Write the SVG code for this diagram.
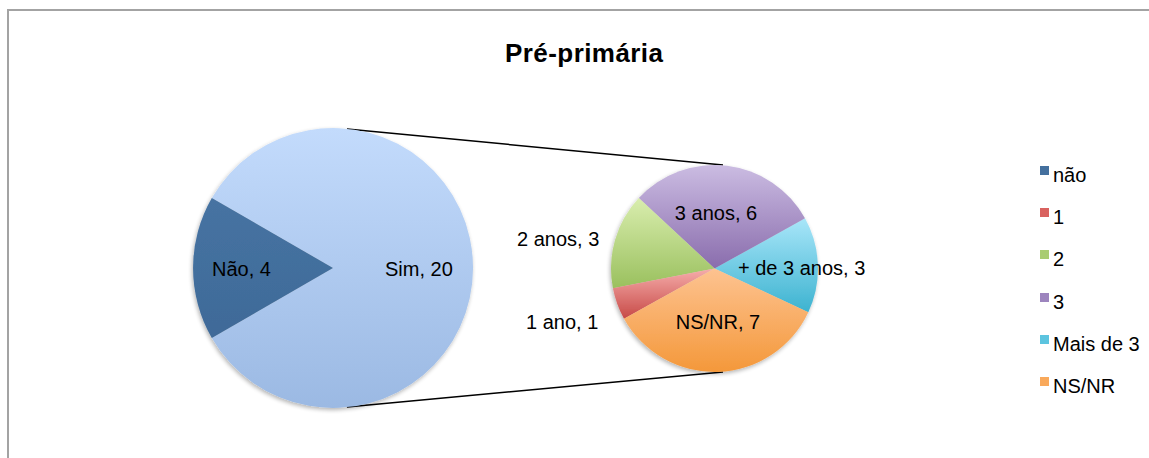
<svg xmlns="http://www.w3.org/2000/svg" width="1149" height="458" viewBox="0 0 1149 458">
<style>
text{font-family:"Liberation Sans",Arial,sans-serif;fill:#000}
.lbl{font-size:20px}
.leg{font-size:20px}
.title{font-size:26px;font-weight:bold}
.conn{stroke:#000;stroke-width:1.5;fill:none}
</style>
<defs>
<linearGradient id="gBig" gradientUnits="userSpaceOnUse" x1="0" y1="128" x2="0" y2="408"><stop offset="0" stop-color="#c3dbfc"/><stop offset="1" stop-color="#9bb9e3"/></linearGradient>
<linearGradient id="gDark" gradientUnits="userSpaceOnUse" x1="0" y1="198" x2="0" y2="338"><stop offset="0" stop-color="#4673a2"/><stop offset="1" stop-color="#3f6a98"/></linearGradient>
<linearGradient id="gPur" gradientUnits="userSpaceOnUse" x1="0" y1="165" x2="0" y2="268"><stop offset="0" stop-color="#cbbce2"/><stop offset="1" stop-color="#8a6dad"/></linearGradient>
<linearGradient id="gCy" gradientUnits="userSpaceOnUse" x1="0" y1="218" x2="0" y2="312"><stop offset="0" stop-color="#a9e6f9"/><stop offset="1" stop-color="#3db3d0"/></linearGradient>
<linearGradient id="gGr" gradientUnits="userSpaceOnUse" x1="0" y1="198" x2="0" y2="288"><stop offset="0" stop-color="#d9edae"/><stop offset="1" stop-color="#9ac05e"/></linearGradient>
<linearGradient id="gRd" gradientUnits="userSpaceOnUse" x1="0" y1="270" x2="0" y2="318"><stop offset="0" stop-color="#f4aaa8"/><stop offset="1" stop-color="#c84b48"/></linearGradient>
<linearGradient id="gOr" gradientUnits="userSpaceOnUse" x1="0" y1="268" x2="0" y2="372"><stop offset="0" stop-color="#fdc391"/><stop offset="1" stop-color="#f4983a"/></linearGradient>
<filter id="sh" x="-10%" y="-10%" width="120%" height="120%"><feGaussianBlur in="SourceAlpha" stdDeviation="2"/><feOffset dx="-1" dy="2"/><feComponentTransfer><feFuncA type="linear" slope="0.3"/></feComponentTransfer><feMerge><feMergeNode/><feMergeNode in="SourceGraphic"/></feMerge></filter>
</defs>
<rect width="1149" height="458" fill="#fff"/>
<path d="M8,458 V10 H1149" fill="none" stroke="#a3a3a3" stroke-width="2"/>
<text class="title" x="505" y="62" textLength="158" lengthAdjust="spacing">Pré-primária</text>
<g id="connectors">
<line class="conn" x1="347" y1="129" x2="723" y2="165"/>
<line class="conn" x1="347" y1="407" x2="723" y2="372"/>
</g>
<g id="pie-main" filter="url(#sh)">
<path d="M333,268 L211.8,338 A140,140 0 1 0 211.8,198 Z" fill="url(#gBig)"/>
<path d="M333,268 L211.8,198 A140,140 0 0 0 211.8,338 Z" fill="url(#gDark)"/>
</g>
<g id="pie-sub" filter="url(#sh)">
<path d="M714.5,268.5 L808.3,312.2 A103.5,103.5 0 0 0 805,218.3 Z" fill="url(#gCy)"/>
<path d="M714.5,268.5 L805,218.3 A103.5,103.5 0 0 0 638.8,197.9 Z" fill="url(#gPur)"/>
<path d="M714.5,268.5 L638.8,197.9 A103.5,103.5 0 0 0 612.9,288.2 Z" fill="url(#gGr)"/>
<path d="M714.5,268.5 L612.9,288.2 A103.5,103.5 0 0 0 624,318.7 Z" fill="url(#gRd)"/>
<path d="M714.5,268.5 L624,318.7 A103.5,103.5 0 0 0 808.3,312.2 Z" fill="url(#gOr)"/>
</g>
<g id="labels">
<text class="lbl" x="212" y="276">Não, 4</text>
<text class="lbl" x="385" y="276">Sim, 20</text>
<text class="lbl" x="517" y="246">2 anos, 3</text>
<text class="lbl" x="716" y="220" text-anchor="middle">3 anos, 6</text>
<text class="lbl" x="738" y="275">+ de 3 anos, 3</text>
<text class="lbl" x="526" y="329">1 ano, 1</text>
<text class="lbl" x="718" y="329" text-anchor="middle">NS/NR, 7</text>
</g>
<g id="legend">
<rect x="1040" y="166" width="9" height="9" fill="#44709e"/><text class="leg" x="1053" y="182">não</text>
<rect x="1040" y="208" width="9" height="9" fill="#d9625f"/><text class="leg" x="1053" y="224">1</text>
<rect x="1040" y="250" width="9" height="9" fill="#a9cc72"/><text class="leg" x="1053" y="266">2</text>
<rect x="1040" y="293" width="9" height="9" fill="#9d85be"/><text class="leg" x="1053" y="309">3</text>
<rect x="1040" y="335" width="9" height="9" fill="#5cc4df"/><text class="leg" x="1053" y="351">Mais de 3</text>
<rect x="1040" y="377" width="9" height="9" fill="#f9a95b"/><text class="leg" x="1053" y="393">NS/NR</text>
</g>
</svg>
